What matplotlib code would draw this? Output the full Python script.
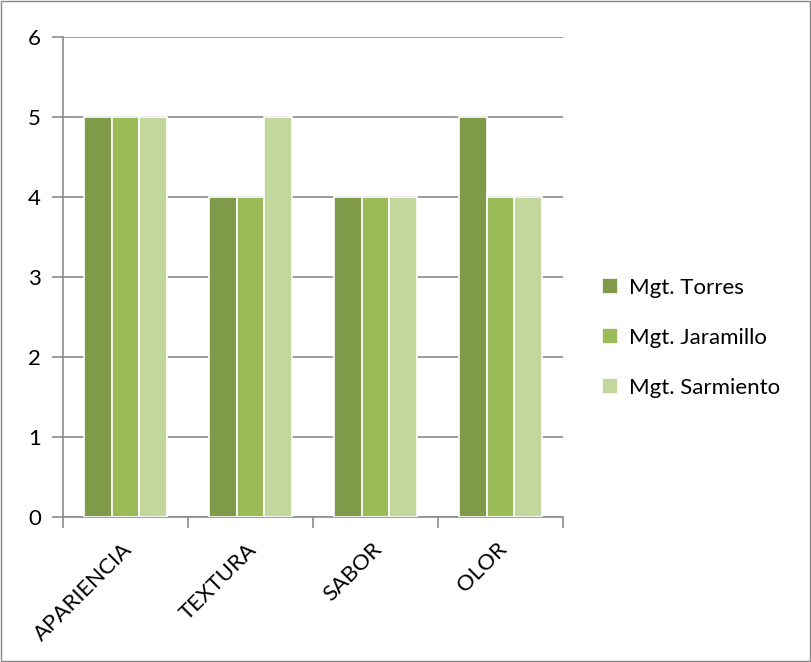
import matplotlib

matplotlib.use("Agg")
import matplotlib.pyplot as plt
import numpy as np
from matplotlib.patches import Rectangle

plt.rcParams["font.family"] = ["Lato", "DejaVu Sans"]

categories = ["APARIENCIA", "TEXTURA", "SABOR", "OLOR"]
torres = [5, 4, 4, 5]
jaramillo = [5, 4, 4, 4]
sarmiento = [5, 5, 4, 4]
series_names = ["Mgt. Torres", "Mgt. Jaramillo", "Mgt. Sarmiento"]
colors = ["#7F9A48", "#9BBB59", "#C3D69B"]
grid_color = "#8C8C8C"

fig = plt.figure(figsize=(8.12, 6.62), dpi=100)
ax = fig.add_axes([63 / 812, 1 - 517 / 662, 500 / 812, 480 / 662])

x = np.arange(len(categories))
width = 0.222
for i, (vals, name, col) in enumerate(zip([torres, jaramillo, sarmiento], series_names, colors)):
    ax.bar(x + (i - 1) * width, vals, width, color=col, edgecolor="white",
           linewidth=1.2, label=name, zorder=3)

ax.set_xlim(-0.5, len(categories) - 0.5)
ax.set_ylim(0, 6)
ax.set_yticks(range(0, 7))
ax.yaxis.grid(True, color=grid_color, linewidth=1.2, zorder=0)
ax.set_xticks(np.arange(-0.5, len(categories)), minor=False)
ax.set_xticklabels([])
ax.set_xticks(x - 0.03, minor=True)
ax.set_xticklabels(categories, minor=True, rotation=45, ha="right",
                   rotation_mode="anchor", fontsize=16)
ax.tick_params(axis="x", which="minor", length=0, pad=16)
ax.tick_params(axis="x", which="major", length=8, color=grid_color, width=1.2)
ax.tick_params(axis="y", length=8, color=grid_color, width=1.2, labelsize=16, pad=8)
for side in ["top", "right"]:
    ax.spines[side].set_visible(False)
for side in ["left", "bottom"]:
    ax.spines[side].set_color(grid_color)
    ax.spines[side].set_linewidth(1.2)

ax.legend(loc="center left", bbox_to_anchor=(1.055, 0.373), frameon=False,
          fontsize=16, handlelength=0.75, handleheight=0.75, handletextpad=0.5,
          labelspacing=1.35, borderpad=0)

fig.patches.append(Rectangle((0.001, 0.001), 0.997, 0.997, transform=fig.transFigure,
                             fill=False, edgecolor="#868686", linewidth=1))

fig.savefig("out.png", dpi=100)
